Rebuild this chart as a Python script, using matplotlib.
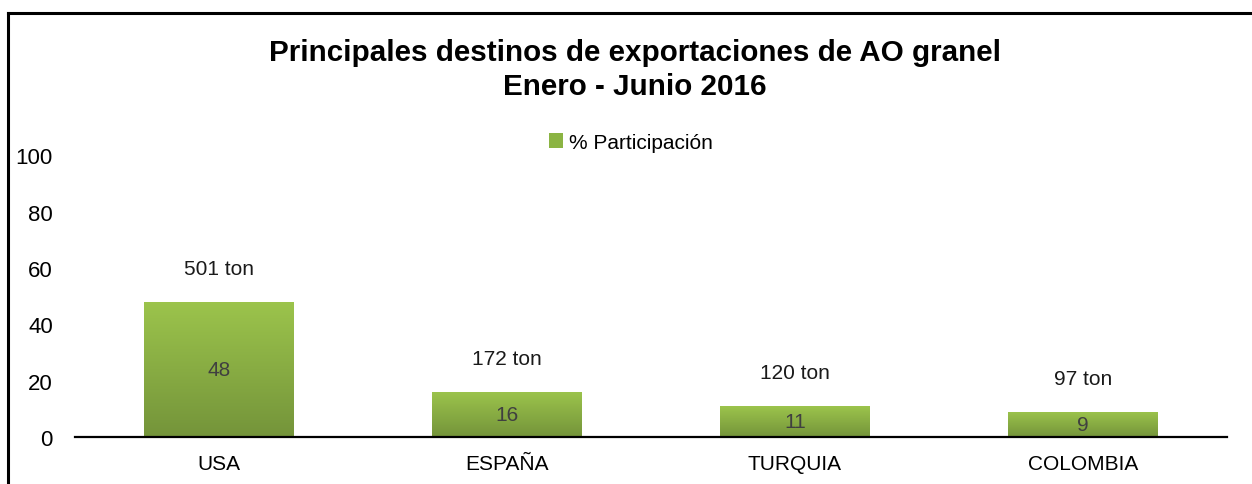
import matplotlib.pyplot as plt
import numpy as np
from matplotlib.lines import Line2D
from matplotlib.patches import Patch
from matplotlib.colors import LinearSegmentedColormap

plt.rcParams['font.family'] = ['Liberation Sans', 'DejaVu Sans']

paises = ['USA', 'ESPAÑA', 'TURQUIA', 'COLOMBIA']
participacion = [48, 16, 11, 9]
toneladas = ['501 ton', '172 ton', '120 ton', '97 ton']
yticks = [0, 20, 40, 60, 80, 100]
titulo = ['Principales destinos de exportaciones de AO granel', 'Enero - Junio 2016']

verde = LinearSegmentedColormap.from_list('verde', ['#74943a', '#9cc44c'])

fig = plt.figure(figsize=(12.52, 4.85), dpi=100)
ax = fig.add_axes([0.0599, 0.0969, 0.9201, 0.581])

x = np.arange(len(paises))
barras = ax.bar(x, participacion, width=0.52, color='none', edgecolor='none')

# degradado dentro de cada barra
grad = np.linspace(0, 1, 256).reshape(-1, 1)
for b in barras:
    x0, w, h = b.get_x(), b.get_width(), b.get_height()
    im = ax.imshow(grad, extent=[x0, x0 + w, 0, h], origin='lower', cmap=verde,
                   aspect='auto', zorder=2)
    im.set_clip_path(b)

for xi, v, t in zip(x, participacion, toneladas):
    ax.text(xi, v / 2, str(v), ha='center', va='center', fontsize=15, color='#404040', zorder=3)
    ax.annotate(t, (xi, v), xytext=(0, 17), textcoords='offset points',
                ha='center', va='bottom', fontsize=15, color='#1a1a1a')

ax.set_xlim(-0.5, len(paises) - 0.5)
ax.set_ylim(0, 100)
ax.set_yticks(yticks)
ax.set_xticks(x)
ax.set_xticklabels(paises)
ax.tick_params(axis='y', length=0, pad=16, labelsize=16)
ax.tick_params(axis='x', length=0, pad=12, labelsize=15)
for s in ['top', 'right', 'left']:
    ax.spines[s].set_visible(False)
ax.spines['bottom'].set_linewidth(1.6)

fig.text(0.507, 1 - 53 / 485, titulo[0], ha='center', va='center', fontsize=21.3, fontweight='bold')
fig.text(0.507, 1 - 87 / 485, titulo[1], ha='center', va='center', fontsize=21.3, fontweight='bold')

fig.legend(handles=[Patch(facecolor='#8bb443', edgecolor='none')], labels=['% Participación'],
           loc='center', bbox_to_anchor=(0.504, 0.705), frameon=False, fontsize=15,
           handlelength=0.7, handleheight=0.7, handletextpad=0.3)

# marco de la figura (izquierda y arriba)
fig.add_artist(Line2D([8 / 1252, 8 / 1252], [0, 1 - 14 / 485], color='black', lw=2.2))
fig.add_artist(Line2D([8 / 1252, 1], [1 - 14 / 485, 1 - 14 / 485], color='black', lw=2.2))

fig.savefig('out.png', dpi=100)
